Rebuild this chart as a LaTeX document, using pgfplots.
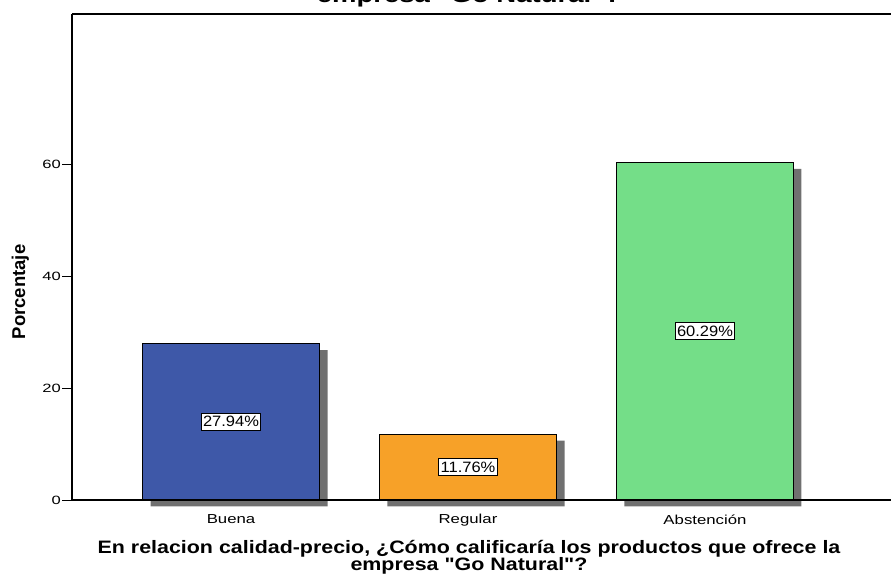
\documentclass[border=0pt]{standalone}
\usepackage{pgfplots}
\pgfplotsset{compat=1.18}
\usepackage{fontspec}
\setmainfont{Liberation Sans}[Ligatures=TeXOff]
\definecolor{cBuena}{HTML}{3E58A8}
\definecolor{cRegular}{HTML}{F7A128}
\definecolor{cAbst}{HTML}{74DE88}
\definecolor{cShadow}{HTML}{707070}
\newcommand{\xl}[1]{\scalebox{1.29}[1]{#1}}
\begin{document}
\begin{tikzpicture}[x=1pt,y=1pt]
\useasboundingbox (0,0) rectangle (891,577);
\begin{axis}[
  at={(72pt,77pt)}, anchor=south west, scale only axis,
  width=819pt, height=486pt,
  xmin=-0.671, xmax=2.785, ymin=0, ymax=86.8,
  axis x line*=bottom, axis y line*=left,
  axis line style={line width=2.8pt, -},
  ytick={0,20,40,60},
  xtick={0,1,2}, xticklabels={\xl{Buena},\xl{Regular},\xl{Abstención}},
  tick align=outside,
  tick style={black, line width=0.9pt},
  xtick style={draw=none},
  major tick length=10pt,
  yticklabel={\scalebox{1.38}[1]{\pgfmathprintnumber{\tick}}},
  y tick label style={font=\fontsize{12}{14}\selectfont, inner sep=1pt},
  x tick label style={font=\fontsize{13}{15}\selectfont, yshift=-1pt},
  /pgf/number format/assume math mode=true,
  clip=false, axis on top,
]
% shadows
\addplot[ybar, bar width=177pt, bar shift=8pt, fill=cShadow, draw=none, yshift=-6.5pt]
  coordinates {(0,27.94) (1,11.76) (2,60.29)};
% bars
\addplot[ybar, bar width=177pt, bar shift=0pt, fill=cBuena, draw=black, line width=1.3pt]
  coordinates {(0,27.94)};
\addplot[ybar, bar width=177pt, bar shift=0pt, fill=cRegular, draw=black, line width=1.3pt]
  coordinates {(1,11.76)};
\addplot[ybar, bar width=177pt, bar shift=0pt, fill=cAbst, draw=black, line width=1.3pt]
  coordinates {(2,60.29)};
% value labels at mid-height of bars
\addplot[draw=none, mark=none, point meta=explicit,
  nodes near coords={\scalebox{1.1}[1]{\pgfmathprintnumber[fixed, fixed zerofill, precision=2]{\pgfplotspointmeta}\%}},
  every node near coord/.style={anchor=center, fill=white, draw=black, line width=1pt,
    inner xsep=2pt, inner ysep=3pt, font=\fontsize{15}{16}\selectfont}]
  coordinates {(0,13.97) [27.94] (1,5.88) [11.76] (2,30.145) [60.29]};
\draw[line width=2.8pt] (rel axis cs:0,1) -- (rel axis cs:1.05,1);
\end{axis}
\node[rotate=90, anchor=base, font=\bfseries\fontsize{18.5}{20}\selectfont] at (25,285) {Porcentaje};
\node[anchor=base, font=\bfseries\fontsize{18}{20}\selectfont] at (469,23)
  {\scalebox{1.19}[1]{En relacion calidad-precio, ¿Cómo calificaría los productos que ofrece la}};
\node[anchor=base, font=\bfseries\fontsize{18}{20}\selectfont] at (469,6)
  {\scalebox{1.19}[1]{empresa "Go Natural"?}};
\node[anchor=base, font=\bfseries\fontsize{22}{24}\selectfont] at (469,574.5)
  {\scalebox{1.25}[1]{empresa "Go Natural"?}};
\end{tikzpicture}
\end{document}
